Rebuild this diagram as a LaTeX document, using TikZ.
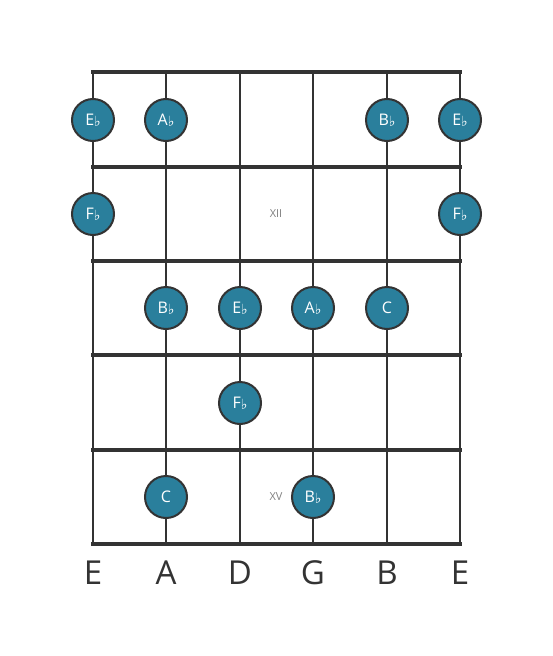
\documentclass[tikz,border=0pt]{standalone}
\usepackage{fontspec}
\setmainfont{Open Sans}
\newfontfamily\symfont{DejaVu Sans}
\usetikzlibrary{positioning}
\definecolor{notecolor}{RGB}{42, 127, 156}
\definecolor{linecolor}{RGB}{51, 51, 51}
\newcommand{\fl}{{\symfont\fontsize{14}{14}\selectfont\raisebox{-1pt}{♭}}}

\begin{document}
\begin{tikzpicture}[
    x=1pt, y=-1pt,
    note/.style={circle, draw=linecolor, line width=2pt, fill=notecolor, minimum size=42pt, inner sep=0pt, text=white, font=\fontsize{16}{16}\selectfont},
    fret/.style={linecolor, line width=4pt},
    strg/.style={linecolor, line width=2pt},
    marker/.style={text=gray, font=\fontsize{11}{11}\selectfont},
    strname/.style={text=linecolor, font=\fontsize{33}{33}\selectfont}
]
\useasboundingbox (0,0) rectangle (553,656);

% Strings
\foreach \s/\x/\n in {1/93/E, 2/166/A, 3/240/D, 4/313/G, 5/387/B, 6/460/E} {
    \coordinate (top\s) at (\x, 72);
    \coordinate (bot\s) at (\x, 544);
    \draw[strg] (top\s) -- (bot\s);
    \node[strname] (name\s) at (\x, 573) {\n};
}

% Frets
\foreach \f/\y in {0/72, 1/167, 2/261, 3/355, 4/450, 5/544} {
    \coordinate (fl\f) at (91, \y);
    \coordinate (fr\f) at (462, \y);
    \draw[fret] (fl\f) -- (fr\f);
}

% Position markers
\node[marker] (xii) at (276, 214) {XII};
\node[marker] (xv) at (276, 497) {XV};

% Notes
\node[note] (n1a) at (93, 120) {E\fl};
\node[note] (n1b) at (166, 120) {A\fl};
\node[note] (n1c) at (387, 120) {B\fl};
\node[note] (n1d) at (460, 120) {E\fl};

\node[note] (n2a) at (93, 214) {F\fl};
\node[note] (n2b) at (460, 214) {F\fl};

\node[note] (n3a) at (166, 308) {B\fl};
\node[note] (n3b) at (240, 308) {E\fl};
\node[note] (n3c) at (313, 308) {A\fl};
\node[note] (n3d) at (387, 308) {C};

\node[note] (n4a) at (240, 403) {F\fl};

\node[note] (n5a) at (166, 497) {C};
\node[note] (n5b) at (313, 497) {B\fl};

\end{tikzpicture}
\end{document}
